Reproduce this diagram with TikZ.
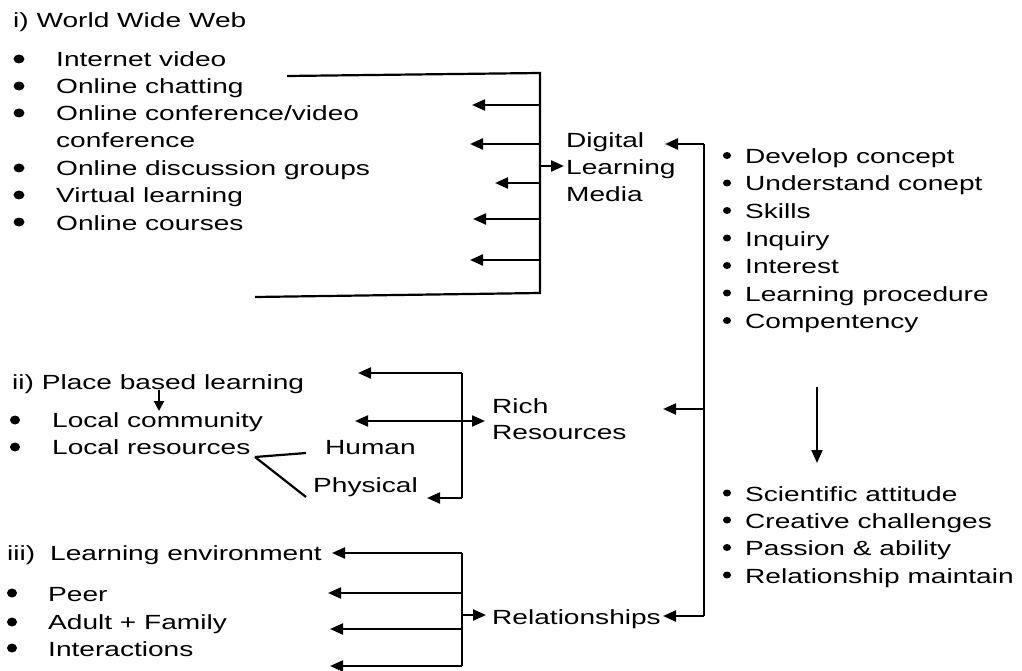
\documentclass[tikz,border=0pt]{standalone}
\usepackage{fontspec}
\setmainfont{Liberation Sans}[FakeStretch=1.37]
\usetikzlibrary{arrows.meta}
\begin{document}
\begin{tikzpicture}[x=1pt,y=-1pt,
  txt/.style={anchor=base west,inner sep=0pt,font=\fontsize{20.5}{24}\selectfont},
  ln/.style={line width=2.2pt,line join=miter},
  arr/.style={ln,-{Triangle[length=13pt,width=11pt]}},
  sarr/.style={ln,-{Triangle[length=10pt,width=10pt]}},
  darr/.style={ln,{Triangle[length=13pt,width=11pt]}-{Triangle[length=13pt,width=11pt]}}]
\useasboundingbox[fill=white] (0,0) rectangle (1022,671);

% ---------- section i ----------
\node[txt] (wwwh) at (13,28) {i) World Wide Web};
\node[txt] (w1) at (56,67) {Internet video};
\node[txt] (w2) at (56,94) {Online chatting};
\node[txt] (w3) at (56,121) {Online conference/video};
\node[txt] (w3b) at (56,148) {conference};
\node[txt] (w4) at (56,176) {Online discussion groups};
\node[txt] (w5) at (56,203) {Virtual learning};
\node[txt] (w6) at (56,230) {Online courses};
\foreach \y in {59,86,113,168,195,222}
  \fill (19,\y) ellipse [x radius=5.5pt, y radius=4.5pt];

\coordinate (t1) at (287,76);
\coordinate (t2) at (540,73);
\coordinate (t3) at (540,293);
\coordinate (t4) at (255,297);
\draw[ln] (t1) -- (t2) -- (t3) -- (t4);
\foreach \y/\x in {105/472,144/470,183/495,219/473,260/470}
  \draw[arr] (540,\y) -- (\x,\y);

\node[txt] (dlm1) at (566,148) {Digital};
\node[txt] (dlm2) at (566,175) {Learning};
\node[txt] (dlm3) at (566,201) {Media};
\coordinate (dlmin) at (564,166);
\draw[arr] (540,166) -- (dlmin);

% ---------- right column ----------
\node[txt] (r1) at (745,163.5) {Develop concept};
\node[txt] (r2) at (745,191) {Understand conept};
\node[txt] (r3) at (745,218.5) {Skills};
\node[txt] (r4) at (745,246) {Inquiry};
\node[txt] (r5) at (745,273.5) {Interest};
\node[txt] (r6) at (745,301) {Learning procedure};
\node[txt] (r7) at (745,328.5) {Compentency};
\foreach \y in {155.5,183,210.5,238,265.5,293,320.5}
  \fill (727,\y) ellipse [x radius=4pt, y radius=3.5pt];

\coordinate (dtop) at (817,387);
\coordinate (dbot) at (817,463);
\draw[arr] (dtop) -- (dbot);

\node[txt] (s1) at (745,501) {Scientific attitude};
\node[txt] (s2) at (745,528) {Creative challenges};
\node[txt] (s3) at (745,555.5) {Passion \& ability};
\node[txt] (s4) at (745,583) {Relationship maintain};
\foreach \y in {493,520,547.5,575}
  \fill (727,\y) ellipse [x radius=4pt, y radius=3.5pt];

\coordinate (v1) at (704,144);
\coordinate (v2) at (704,409);
\coordinate (v3) at (704,616);
\draw[ln] (v1) -- (v3);
\draw[arr] (v1) -- (665,144);
\draw[arr] (v2) -- (663,409);
\draw[arr] (v3) -- (663,616);

% ---------- section ii ----------
\node[txt] (pbl) at (12,389) {ii) Place based learning};
\node[txt] (lc) at (52,427) {Local community};
\node[txt] (lr) at (52,454) {Local resources};
\node[txt] (hum) at (325,454) {Human};
\node[txt] (phy) at (313,492) {Physical};
\foreach \y in {420,447}
  \fill (15,\y) ellipse [x radius=5pt, y radius=4.5pt];
\draw[sarr] (159,390) -- (159,411);
\coordinate (lrj) at (255,457);
\draw[ln] (lrj) -- (306,453);
\draw[ln] (lrj) -- (306,497);

\node[txt] (rich1) at (492,413) {Rich};
\node[txt] (rich2) at (492,439) {Resources};
\coordinate (b1) at (462,373);
\coordinate (b2) at (462,498);
\draw[ln] (b1) -- (b2);
\draw[arr] (b1) -- (358,373);
\draw[arr] (b2) -- (427,498);
\draw[darr] (355,421) -- (485,421);

% ---------- section iii ----------
\node[txt] (iii) at (7,560) {iii)};
\node[txt] (le) at (50,560) {Learning environment};
\node[txt] (peer) at (48,601) {Peer};
\node[txt] (adult) at (48,629) {Adult + Family};
\node[txt] (inter) at (48,656) {Interactions};
\foreach \y in {593,622,648}
  \fill (12,\y) ellipse [x radius=5pt, y radius=4.5pt];

\coordinate (c1) at (462,553);
\coordinate (c2) at (462,666);
\draw[ln] (c1) -- (c2);
\draw[arr] (c1) -- (332,553);
\draw[arr] (462,593) -- (328,593);
\draw[arr] (462,629) -- (330,629);
\draw[arr] (c2) -- (330,666);
\node[txt] (rel) at (492,624) {Relationships};
\draw[arr] (462,615) -- (486,615);
\end{tikzpicture}
\end{document}
